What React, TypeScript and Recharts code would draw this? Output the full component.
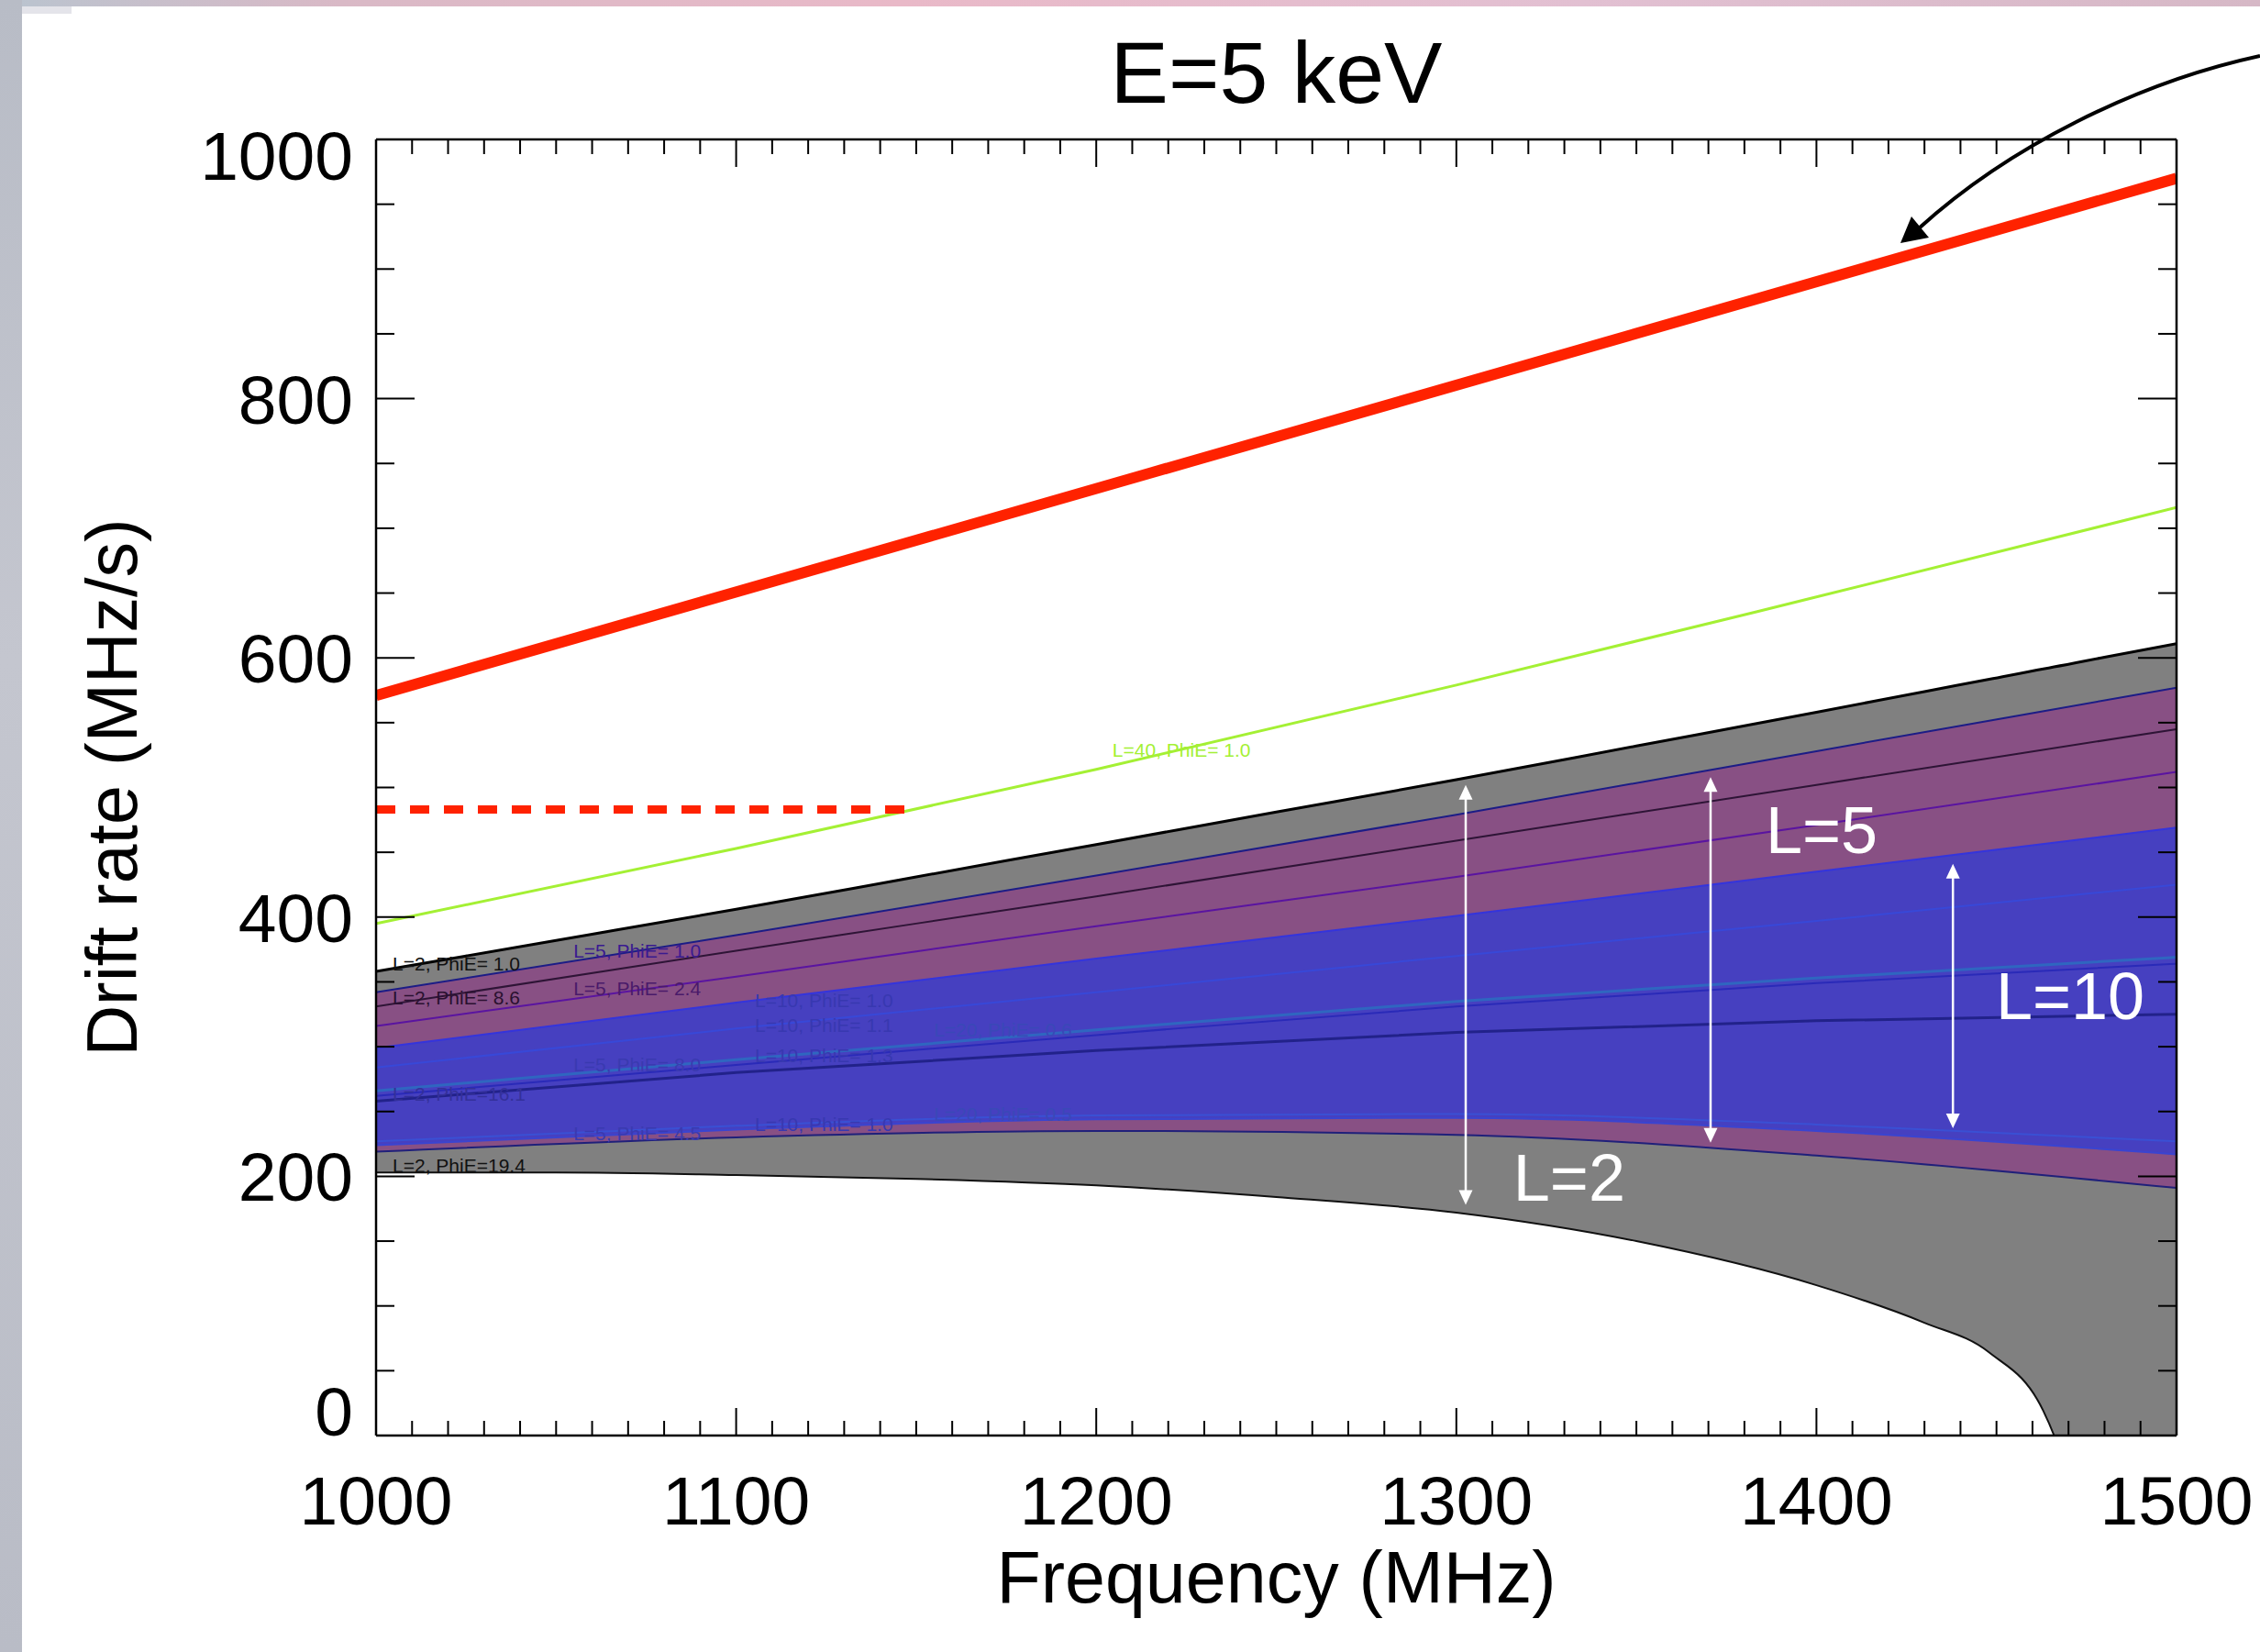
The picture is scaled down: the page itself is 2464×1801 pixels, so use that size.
import { ComposedChart, Area, Line, XAxis, YAxis, ReferenceDot, ReferenceLine, Label } from 'recharts';

const FONT = '"Liberation Sans", Arial, Helvetica, sans-serif';

// frequency grid (MHz) for the L=5 / L=10 / L=20 / L=40 curves
const freqs = [1000, 1100, 1200, 1300, 1400, 1500];
const l5Top = [342, 386, 432, 479, 528, 577];
const l5Bottom = [219, 230, 235, 232, 216, 191];
const l10Top = [299, 334, 368, 401, 435, 469];
const l10Bottom = [224, 236, 244, 245, 235, 217];
const l2Phi86 = [331, 374, 416, 459, 502, 545];
const l5Phi24 = [316, 354, 393, 431, 471, 512];
const l10Phi11 = [284, 314, 342, 370, 397, 425];
const l20Phi06 = [266, 290, 313, 335, 353, 369];
const l10Phi13 = [262, 286, 309, 331, 349, 364];
const l2Phi161 = [258, 280, 297, 311, 320, 325];
const l20Phi05 = [227, 239, 247, 248, 240, 227];
const l40Phi10 = [395, 453, 514, 579, 647, 716];

// L=2 band, finer grid because of the drop near 1450 MHz
const grayFreqs = [1000, 1050, 1100, 1150, 1200, 1250, 1300, 1350, 1400, 1430, 1448, 1463, 1466, 1480, 1500];
const l2Top = [358, 382, 406, 431, 456, 481, 506, 532, 558, 574, 583.5, 591.5, 593, 600.5, 611];
const l2Bottom = [203, 203, 201, 198, 193, 184, 172, 150, 116, 87, 64, 19, 0, -150, -350];

// red limits
const limitFreqs = [1000, 1500];
const limitRate = [571, 970];
const observedFreqs = [1000, 1147];
const observedRate = [483, 483];

const xTicks = Array.from({ length: 51 }, (_, i) => 1000 + i * 10);
const yTicks = Array.from({ length: 21 }, (_, i) => i * 50);

const curveLabels = [
  { text: 'L=2, PhiE= 1.0', f: 1004.6, v: 358.8, color: '#111111' },
  { text: 'L=2, PhiE= 8.6', f: 1004.6, v: 332.6, color: '#2a1030' },
  { text: 'L=2, PhiE=16.1', f: 1004.6, v: 258.3, color: '#34309a' },
  { text: 'L=2, PhiE=19.4', f: 1004.6, v: 203.1, color: '#111111' },
  { text: 'L=5, PhiE= 1.0', f: 1054.8, v: 368.7, color: '#3a1a90' },
  { text: 'L=5, PhiE= 2.4', f: 1054.8, v: 339.7, color: '#4a1a6a' },
  { text: 'L=5, PhiE= 8.0', f: 1054.8, v: 281, color: '#3a3ab0' },
  { text: 'L=5, PhiE= 4.5', f: 1054.8, v: 227.9, color: '#3a3ab0' },
  { text: 'L=10, PhiE= 1.0', f: 1105.2, v: 330.5, color: '#3838b0' },
  { text: 'L=10, PhiE= 1.1', f: 1105.2, v: 311.4, color: '#3838b0' },
  { text: 'L=10, PhiE= 1.3', f: 1105.2, v: 288, color: '#3838b0' },
  { text: 'L=10, PhiE= 1.0', f: 1105.2, v: 235, color: '#3838b0' },
  { text: 'L=20, PhiE= 0.6', f: 1154.9, v: 307.9, color: '#3a48b8' },
  { text: 'L=20, PhiE= 0.5', f: 1154.9, v: 242.7, color: '#3a48b8' },
  { text: 'L=40, PhiE= 1.0', f: 1204.5, v: 523.7, color: '#a4f034' },
];

const bigLabels = [
  { text: 'L=5', f: 1385.9, v: 449.4 },
  { text: 'L=10', f: 1449.8, v: 321.3 },
  { text: 'L=2', f: 1315.8, v: 181.2 },
];

const spans = [
  { f: 1302.6, from: 502, to: 178 },
  { f: 1370.6, from: 508, to: 226 },
  { f: 1437.9, from: 441, to: 237 },
];

const rows = freqs.map((f, i) => ({
  f,
  l5: [l5Bottom[i], l5Top[i]],
  l10: [l10Bottom[i], l10Top[i]],
  l5Top: l5Top[i],
  l5Bottom: l5Bottom[i],
  l10Top: l10Top[i],
  l10Bottom: l10Bottom[i],
  l2Phi86: l2Phi86[i],
  l5Phi24: l5Phi24[i],
  l10Phi11: l10Phi11[i],
  l20Phi06: l20Phi06[i],
  l10Phi13: l10Phi13[i],
  l2Phi161: l2Phi161[i],
  l20Phi05: l20Phi05[i],
  l40: l40Phi10[i],
}));
const grayRows = grayFreqs.map((f, i) => ({ f, band: [l2Bottom[i], l2Top[i]], top: l2Top[i], bottom: l2Bottom[i] }));
const limitRows = limitFreqs.map((f, i) => ({ f, v: limitRate[i] }));
const observedRows = observedFreqs.map((f, i) => ({ f, v: observedRate[i] }));

function BottomTick({ x, y, payload }: any) {
  const major = payload.value % 100 === 0;
  return (
    <g>
      <line x1={x} x2={x} y1={y} y2={y - (major ? 30 : 16)} stroke="#000" strokeWidth={2} />
      {major && (
        <text x={x} y={y + 97} textAnchor="middle" fontSize={75} fontFamily={FONT} fill="#000">
          {payload.value}
        </text>
      )}
    </g>
  );
}

function TopTick({ x, y, payload }: any) {
  const major = payload.value % 100 === 0;
  return <line x1={x} x2={x} y1={y} y2={y + (major ? 30 : 16)} stroke="#000" strokeWidth={2} />;
}

function LeftTick({ x, y, payload }: any) {
  const major = payload.value % 200 === 0;
  const shift = payload.value === 1000 ? 17 : payload.value === 0 ? -27 : 0;
  return (
    <g>
      <line x1={x} x2={x + (major ? 42 : 20)} y1={y} y2={y} stroke="#000" strokeWidth={2} />
      {major && (
        <text x={x - 25} y={y + 27 + shift} textAnchor="end" fontSize={75} fontFamily={FONT} fill="#000">
          {payload.value}
        </text>
      )}
    </g>
  );
}

function RightTick({ x, y, payload }: any) {
  const major = payload.value % 200 === 0;
  return <line x1={x} x2={x - (major ? 42 : 20)} y1={y} y2={y} stroke="#000" strokeWidth={2} />;
}

function DoubleArrow(p: any) {
  const x = p.x1;
  const top = Math.min(p.y1, p.y2);
  const bottom = Math.max(p.y1, p.y2);
  return (
    <g>
      <line x1={x} x2={x} y1={top + 12} y2={bottom - 12} stroke="#fff" strokeWidth={2.5} />
      <polygon points={`${x},${top} ${x - 7.5},${top + 16} ${x + 7.5},${top + 16}`} fill="#fff" />
      <polygon points={`${x},${bottom} ${x - 7.5},${bottom - 16} ${x + 7.5},${bottom - 16}`} fill="#fff" />
    </g>
  );
}

export default function App() {
  return (
    <div style={{ position: 'absolute', left: 0, top: 0, width: 2464, height: 1801, background: '#fff', overflow: 'hidden' }}>
      <div style={{ position: 'absolute', left: 0, top: 0, width: 2464, height: 7, background: 'linear-gradient(90deg, #b9c4cf 0%, #d9b9c6 15%, #e9b9c8 40%, #e2c0d2 70%, #d6b8c6 100%)' }} />
      <div style={{ position: 'absolute', left: 24, top: 7, width: 54, height: 8, background: '#e4e4ea' }} />
      <div style={{ position: 'absolute', left: 0, top: 0, width: 24, height: 1801, background: 'linear-gradient(180deg, #b8bcc6 0%, #c4c6cf 40%, #b9bcc6 100%)' }} />
      <div style={{ position: 'absolute', left: 0, top: 0 }}>
        <ComposedChart width={2464} height={1801} margin={{ top: 151, right: 90, bottom: 0, left: 0 }}>
          <XAxis
            dataKey="f"
            type="number"
            domain={[1000, 1500]}
            ticks={xTicks}
            interval={0}
            height={236}
            tickSize={0}
            tickMargin={0}
            tickLine={false}
            tick={<BottomTick />}
            axisLine={{ stroke: '#000', strokeWidth: 2.5 }}
            allowDataOverflow
          >
            <Label
              content={(p: any) => (
                <text x={p.viewBox.x + p.viewBox.width / 2} y={1747} textAnchor="middle" fontSize={79} fontFamily={FONT} fill="#000">
                  Frequency (MHz)
                </text>
              )}
            />
          </XAxis>
          <XAxis
            xAxisId="top"
            orientation="top"
            dataKey="f"
            type="number"
            domain={[1000, 1500]}
            ticks={xTicks}
            interval={0}
            height={1}
            tickSize={0}
            tickMargin={0}
            tickLine={false}
            tick={<TopTick />}
            axisLine={{ stroke: '#000', strokeWidth: 2.5 }}
            allowDataOverflow
          >
            <Label
              content={(p: any) => (
                <text x={p.viewBox.x + p.viewBox.width / 2} y={112} textAnchor="middle" fontSize={95} fontFamily={FONT} fill="#000">
                  E=5 keV
                </text>
              )}
            />
          </XAxis>
          <YAxis
            type="number"
            domain={[0, 1000]}
            ticks={yTicks}
            interval={0}
            width={410}
            tickSize={0}
            tickMargin={0}
            tickLine={false}
            tick={<LeftTick />}
            axisLine={{ stroke: '#000', strokeWidth: 2.5 }}
            allowDataOverflow
          >
            <Label
              content={(p: any) => (
                <text
                  transform={`translate(149, ${p.viewBox.y + p.viewBox.height / 2}) rotate(-90)`}
                  textAnchor="middle"
                  fontSize={77}
                  fontFamily={FONT}
                  fill="#000"
                >
                  Drift rate (MHz/s)
                </text>
              )}
            />
          </YAxis>
          <YAxis
            yAxisId="right"
            orientation="right"
            type="number"
            domain={[0, 1000]}
            ticks={yTicks}
            interval={0}
            width={1}
            tickSize={0}
            tickMargin={0}
            tickLine={false}
            tick={<RightTick />}
            axisLine={{ stroke: '#000', strokeWidth: 2.5 }}
            allowDataOverflow
          />

          <Area data={grayRows} dataKey="band" type="monotone" stroke="none" fill="#808080" fillOpacity={1} isAnimationActive={false} activeDot={false} />
          <Area data={rows} dataKey="l5" type="monotone" stroke="none" fill="#885084" fillOpacity={1} isAnimationActive={false} activeDot={false} />
          <Area data={rows} dataKey="l10" type="monotone" stroke="none" fill="#4640c0" fillOpacity={1} isAnimationActive={false} activeDot={false} />

          <Line data={grayRows} dataKey="top" type="monotone" stroke="#000" strokeWidth={3} dot={false} activeDot={false} isAnimationActive={false} />
          <Line data={grayRows} dataKey="bottom" type="monotone" stroke="#111" strokeWidth={2} dot={false} activeDot={false} isAnimationActive={false} />
          <Line data={rows} dataKey="l5Top" type="monotone" stroke="#1c1c86" strokeWidth={2} dot={false} activeDot={false} isAnimationActive={false} />
          <Line data={rows} dataKey="l2Phi86" type="monotone" stroke="#2e1436" strokeWidth={2} dot={false} activeDot={false} isAnimationActive={false} />
          <Line data={rows} dataKey="l5Phi24" type="monotone" stroke="#5a14a0" strokeWidth={2} dot={false} activeDot={false} isAnimationActive={false} />
          <Line data={rows} dataKey="l10Top" type="monotone" stroke="#3434dc" strokeWidth={2} dot={false} activeDot={false} isAnimationActive={false} />
          <Line data={rows} dataKey="l10Phi11" type="monotone" stroke="#3848d8" strokeWidth={2} dot={false} activeDot={false} isAnimationActive={false} />
          <Line data={rows} dataKey="l10Phi13" type="monotone" stroke="#2a2ab8" strokeWidth={2} dot={false} activeDot={false} isAnimationActive={false} />
          <Line data={rows} dataKey="l20Phi06" type="monotone" stroke="#2f66c0" strokeWidth={3} dot={false} activeDot={false} isAnimationActive={false} />
          <Line data={rows} dataKey="l2Phi161" type="monotone" stroke="#22228a" strokeWidth={3} dot={false} activeDot={false} isAnimationActive={false} />
          <Line data={rows} dataKey="l20Phi05" type="monotone" stroke="#3a50d4" strokeWidth={2} dot={false} activeDot={false} isAnimationActive={false} />
          <Line data={rows} dataKey="l10Bottom" type="monotone" stroke="#3a44d0" strokeWidth={2} dot={false} activeDot={false} isAnimationActive={false} />
          <Line data={rows} dataKey="l5Bottom" type="monotone" stroke="#20207a" strokeWidth={2} dot={false} activeDot={false} isAnimationActive={false} />
          <Line data={rows} dataKey="l40" type="monotone" stroke="#a4f034" strokeWidth={3} dot={false} activeDot={false} isAnimationActive={false} />
          <Line data={observedRows} dataKey="v" type="linear" stroke="#ff2200" strokeWidth={9} strokeDasharray="21 16" dot={false} activeDot={false} isAnimationActive={false} />
          <Line data={limitRows} dataKey="v" type="linear" stroke="#ff2200" strokeWidth={12} dot={false} activeDot={false} isAnimationActive={false} />
          {/* invisible series that ties the mirrored top/right axes to the plot */}
          <Line data={limitRows} dataKey="v" xAxisId="top" yAxisId="right" stroke="none" strokeWidth={0} dot={false} activeDot={false} isAnimationActive={false} />

          {curveLabels.map((l, i) => (
            <ReferenceDot
              key={`c${i}`}
              x={l.f}
              y={l.v}
              r={0}
              shape={(p: any) => (
                <text x={p.cx} y={p.cy} fontSize={21} fontFamily={FONT} fill={l.color}>
                  {l.text}
                </text>
              )}
            />
          ))}
          {spans.map((s, i) => (
            <ReferenceLine
              key={`s${i}`}
              segment={[
                { x: s.f, y: s.from },
                { x: s.f, y: s.to },
              ]}
              shape={<DoubleArrow />}
            />
          ))}
          {bigLabels.map((l, i) => (
            <ReferenceDot
              key={`b${i}`}
              x={l.f}
              y={l.v}
              r={0}
              shape={(p: any) => (
                <text x={p.cx} y={p.cy} fontSize={72} fontFamily={FONT} fill="#fff">
                  {l.text}
                </text>
              )}
            />
          ))}
        </ComposedChart>
      </div>
      <svg width={2464} height={1801} style={{ position: 'absolute', left: 0, top: 0, pointerEvents: 'none' }}>
        <path d="M2464,61 C2330,90 2190,160 2092,249" fill="none" stroke="#000" strokeWidth={4} />
        <polygon points="2072,265 2084,236 2103,259" fill="#000" />
      </svg>
    </div>
  );
}
